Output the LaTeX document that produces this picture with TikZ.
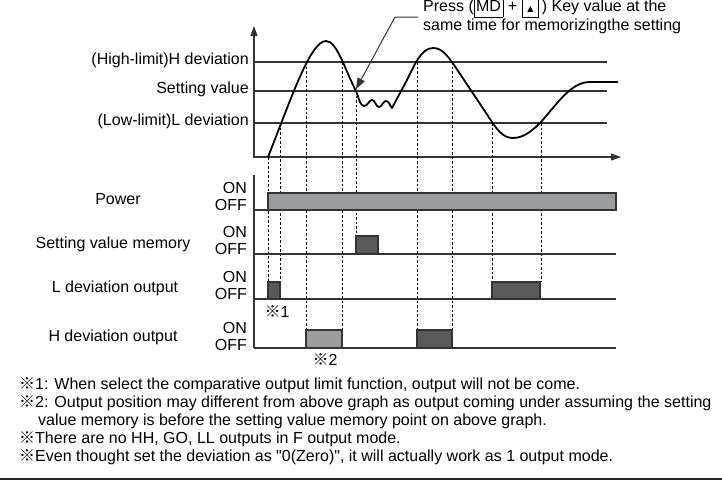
\documentclass[tikz,border=0pt]{standalone}
\usepackage{fontspec}
\setmainfont{Liberation Sans}[Ligatures=TeXOff]
\newfontfamily\refmarkfont{Noto Sans CJK JP}
\newfontfamily\symfont{DejaVu Sans}
\usetikzlibrary{arrows.meta}

\newcommand{\rmk}{{\refmarkfont ※}}
\newcommand{\keycap}[1]{{\setlength{\fboxsep}{1.5pt}\setlength{\fboxrule}{0.8pt}\fbox{\rule[-3.5pt]{0pt}{14pt}#1}}}

\definecolor{inkline}{HTML}{333333}
\definecolor{barlight}{HTML}{9B9C9E}
\definecolor{bardark}{HTML}{58595B}

\begin{document}
\begin{tikzpicture}[x=1pt,y=-1pt,
  txt/.style={font=\fontsize{16}{17}\selectfont, inner sep=0pt, text=black},
  note/.style={font=\fontsize{16}{17}\selectfont, inner sep=0pt, anchor=mid west, text=black},
  axis/.style={line width=1.2pt, draw=inkline},
  level/.style={line width=1.2pt, draw=inkline},
  curve/.style={line width=1.8pt, draw=black, line join=round},
  guide/.style={line width=0.8pt, draw=black, dash pattern=on 2.5pt off 2pt},
  lightbar/.style={fill=barlight, draw=inkline, line width=1.2pt},
  darkbar/.style={fill=bardark, draw=inkline, line width=1.2pt},
  tip/.style={-{Triangle[length=11pt,width=8pt]}}
]
\useasboundingbox (0,0) rectangle (722,485);

% ---------- analogue graph ----------
\coordinate (origin) at (254,157);
\coordinate (ytop) at (254,26);
\coordinate (xend) at (621,157);
\draw[axis, {Triangle[length=10pt,width=7pt]}-{Triangle[length=10pt,width=7pt]}] (ytop) -- (origin) -- (xend);

\node[txt, anchor=mid east] (hdev) at (249,62) {(High-limit)H deviation};
\node[txt, anchor=mid east] (setv) at (249,91) {Setting value};
\node[txt, anchor=mid east] (ldev) at (249,123) {(Low-limit)L deviation};

\draw[level] (254,62) coordinate (hL) -- (607,62) coordinate (hR);
\draw[level] (254,91) coordinate (sL) -- (607,91) coordinate (sR);
\draw[level] (254,123) coordinate (lL) -- (607,123) coordinate (lR);

% guide lines from level crossings down to the output pulses
\draw[guide] (268,157) -- (268,282);
\draw[guide] (280,123) -- (280,282);
\draw[guide] (306,62) -- (306,330);
\draw[guide] (342,62) -- (342,330);
\draw[guide] (356,91) -- (356,236);
\draw[guide] (417,62) -- (417,330);
\draw[guide] (452,62) -- (452,330);
\draw[guide] (492,123) -- (492,282);
\draw[guide] (541,123) -- (541,282);

% measured value
\draw[curve] (268,157)
  .. controls (290,102) and (310,41) .. (326,41)
  .. controls (337,41) and (345,70) .. (356,91)
  .. controls (359,98) and (360,106) .. (364,106)
  .. controls (368,106) and (369,100) .. (372,100)
  .. controls (375,100) and (376,107) .. (379,107)
  .. controls (382,107) and (383,101) .. (386,101)
  .. controls (389,101) and (390,106) .. (392,108)
  -- (408,78)
  .. controls (414,66) and (421,48) .. (433,48)
  .. controls (441,48) and (446,54) .. (452,62)
  -- (488,116)
  .. controls (497,130) and (503,138) .. (513,138)
  .. controls (524,138) and (533,130) .. (541,122)
  .. controls (560,100) and (572,82) .. (590,82)
  -- (618,82);

% key press callout
\node[txt, anchor=mid west] (press) at (423,9)
  {Press (\keycap{MD} + \keycap{\makebox[13pt]{\scalebox{0.5}{\symfont ▲}}}\,) Key value at the};
\node[txt, anchor=mid west] (press2) at (423,28) {same time for memorizingthe setting};
\coordinate (callA) at (418,17);
\coordinate (callB) at (395,17);
\coordinate (callTip) at (356,89);
\draw[line width=1pt, draw=inkline, tip] (callA) -- (callB) -- (callTip);

% ---------- timing chart ----------
\draw[axis] (254,175) -- (254,348);
\draw[axis] (254,210) -- (268,210);
\draw[axis] (254,254) -- (616,254);
\draw[axis] (254,299) -- (616,299);
\draw[axis] (254,348) -- (616,348);

\node[txt] (pw) at (118,199) {Power};
\node[txt] (svm) at (113,244) {Setting value memory};
\node[txt] (ldo) at (115,288) {L deviation output};
\node[txt] (hdo) at (113,337) {H deviation output};

\foreach \n/\y in {pw/191, svm/235, ldo/280, hdo/331}{
  \node[txt, anchor=mid east] (\n-on) at (247,\y) {ON};
  \node[txt, anchor=mid east] (\n-off) at (247,\y+17) {OFF};
}

\draw[lightbar] (268,193) rectangle (616,210);
\draw[darkbar] (356,236) rectangle (378,254);
\draw[darkbar] (268,282) rectangle (280,299);
\draw[darkbar] (492,282) rectangle (540,299);
\draw[lightbar] (306,330) rectangle (342,348);
\draw[darkbar] (417,330) rectangle (452,348);

\node[txt] (m1) at (277,312) {\rmk1};
\node[txt] (m2) at (325,360) {\rmk2};

% ---------- notes ----------
\node[note] (n1) at (19,387) {\rmk1: When select the comparative output limit function, output will not be come.};
\node[note] (n2) at (19,405) {\rmk2: Output position may different from above graph as output coming under assuming the setting};
\node[note] (n2b) at (38,423) {value memory is before the setting value memory point on above graph.};
\node[note] (n3) at (19,441) {\rmk There are no HH, GO, LL outputs in F output mode.};
\node[note] (n4) at (19,459) {\rmk Even thought set the deviation as "0(Zero)", it will actually work as 1 output mode.};

\draw[line width=2.5pt, draw=black!85] (0,479) coordinate (ruleL) -- (722,479) coordinate (ruleR);
\end{tikzpicture}
\end{document}
